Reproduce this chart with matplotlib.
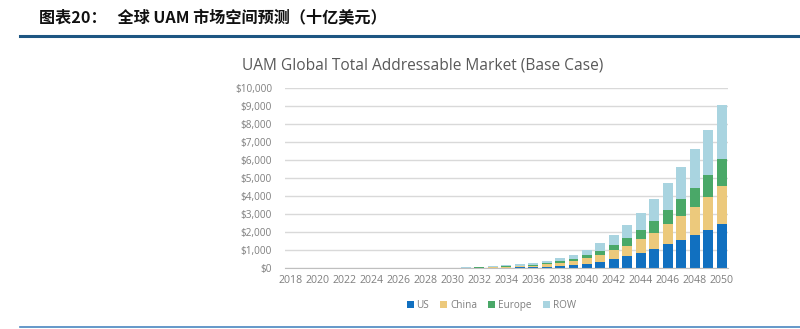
import matplotlib.pyplot as plt
import numpy as np

years = list(range(2018, 2051))
# values in $ billions
us = [0, 0, 0, 0, 0, 0, 0, 0, 0, 0, 0, 0, 3, 8, 15, 25, 40, 60, 70, 90, 130, 170, 260,
      350, 500, 660, 830, 1050, 1330, 1570, 1830, 2100, 2430]
china = [0, 0, 0, 0, 0, 0, 0, 0, 0, 0, 0, 3, 7, 12, 20, 28, 40, 50, 80, 150, 170, 220, 290,
         390, 500, 590, 780, 920, 1120, 1350, 1580, 1830, 2130]
europe = [0, 0, 0, 0, 0, 0, 0, 0, 0, 0, 0, 3, 8, 12, 18, 28, 35, 40, 50, 70, 90, 130, 170,
          240, 310, 410, 510, 650, 780, 900, 1050, 1240, 1470]
row = [0, 0, 0, 0, 0, 0, 0, 0, 0, 0, 0, 4, 12, 18, 27, 39, 55, 70, 110, 110, 160, 220, 290,
       400, 540, 740, 960, 1200, 1470, 1770, 2130, 2490, 3010]
series = ["US", "China", "Europe", "ROW"]
colors = ["#1170c0", "#ecc97c", "#4aa868", "#a9d4e0"]

plt.rcParams['font.family'] = ['Open Sans', 'DejaVu Sans']

fig = plt.figure(figsize=(8, 3.29), dpi=100)

# report header
fig.text(0.049, 0.944, "图表20：   全球 UAM 市场空间预测（十亿美元）",
         family=['Noto Sans CJK SC', 'DejaVu Sans'], fontsize=11.6,
         fontweight='bold', color='#111111', va='center', ha='left')
fig.add_artist(plt.Line2D([0.025, 1.0], [0.892, 0.892], color='#1d5682', lw=2.2))
fig.add_artist(plt.Line2D([0.025, 1.0], [0.005, 0.005], color='#4a86c0', lw=1.2))

ax = fig.add_axes([0.3557, 0.1845, 0.554, 0.549])
x = np.arange(len(years))
bottom = np.zeros(len(years))
for name, vals, c in zip(series, [us, china, europe, row], colors):
    ax.bar(x, vals, width=0.74, bottom=bottom, color=c, label=name, zorder=3)
    bottom += np.array(vals)

ax.set_xlim(-0.45, 32.45)
ax.set_ylim(0, 10000)
ax.set_yticks(range(0, 10001, 1000))
ax.set_yticklabels(["$" + format(v, ",") for v in range(0, 10001, 1000)])
ax.set_xticks(x[::2])
ax.set_xticklabels([str(y) for y in years[::2]])
ax.tick_params(axis='both', length=0, labelcolor='#7f7f7f')
ax.tick_params(axis='y', pad=9, labelsize=7.2)
ax.tick_params(axis='x', pad=5, labelsize=7.6)
ax.grid(axis='y', color='#d9d9d9', lw=1, zorder=0)
for s in ['top', 'right', 'left']:
    ax.spines[s].set_visible(False)
ax.spines['bottom'].set_color('#bfbfbf')
ax.spines['bottom'].set_zorder(4)

fig.text(0.303, 0.80, "UAM Global Total Addressable Market (Base Case)",
         fontsize=11.2, color='#595959', va='center', ha='left')

fig.legend(loc='center', bbox_to_anchor=(0.614, 0.07), ncol=4, frameon=False,
           fontsize=7.2, labelcolor='#7f7f7f', handlelength=0.7, handleheight=0.7,
           handletextpad=0.3, columnspacing=1.1)

fig.savefig("out.png", dpi=100)
